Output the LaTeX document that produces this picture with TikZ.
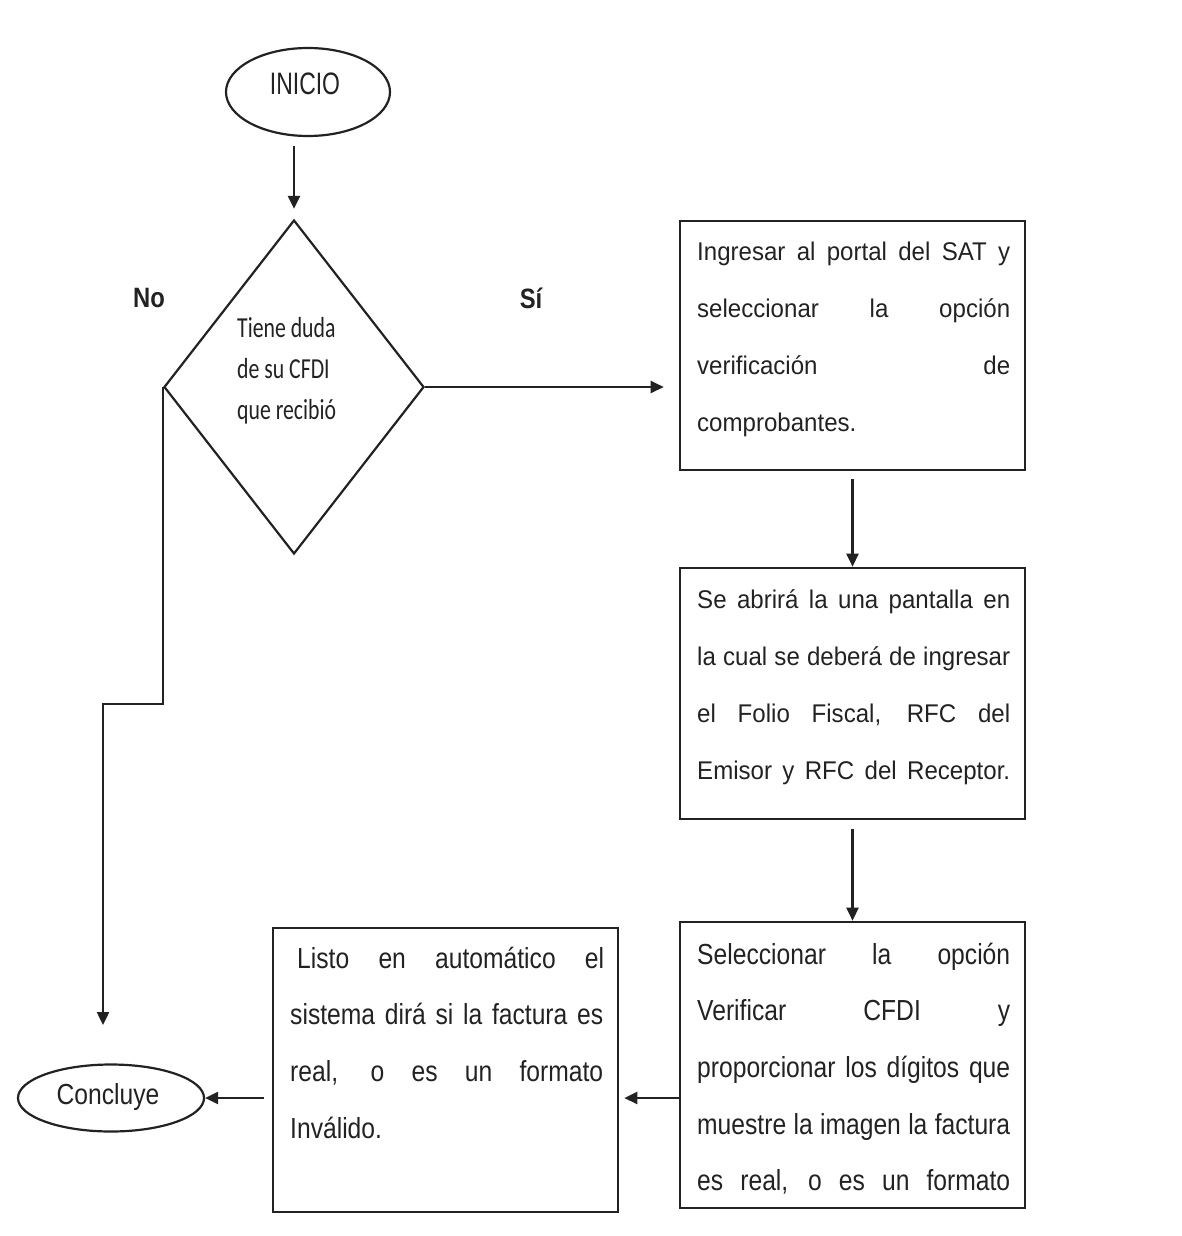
\documentclass[tikz,border=0pt]{standalone}
\usepackage{fontspec}
\setmainfont{Liberation Sans}
\newfontfamily\boxfont[FakeStretch=0.94]{Liberation Sans}
\newfontfamily\narrowfont[FakeStretch=0.85]{Liberation Sans}
\newfontfamily\inifont[FakeStretch=0.74]{Liberation Sans}
\newfontfamily\calfont[FakeStretch=0.75]{Carlito}
\usetikzlibrary{shapes.geometric,arrows.meta}
\definecolor{ink}{HTML}{222222}
\tikzset{
  line/.style={draw=ink, line width=2.4pt},
  arr/.style={line, -{Triangle[length=13pt,width=12pt]}},
  boxshape/.style={draw=ink, line width=2.6pt, rectangle, inner sep=0pt},
  oval/.style={draw=ink, line width=2.2pt, ellipse, inner sep=0pt},
  lbl/.style={inner sep=0pt, text=ink},
}
\newcommand{\jline}[1]{\makebox[313pt][s]{#1}}
\newcommand{\lline}[1]{\makebox[313pt][l]{#1}}
\begin{document}
\begin{tikzpicture}[x=1pt,y=-1pt]
\useasboundingbox (0,0) rectangle (1182,1236);
% shapes
\node[oval, minimum width=164pt, minimum height=88pt] (ini) at (308,92) {};
\node[lbl, font=\inifont\fontsize{31pt}{31pt}\selectfont] (initxt) at (305,84) {INICIO};
\node[draw=ink, line width=2.2pt, diamond, aspect=0.78, minimum width=260pt, minimum height=334pt, inner sep=0pt] (dia) at (294,387) {};
\node[lbl, anchor=base west] (diatxt) at (237,337) {\parbox[t]{120pt}{\calfont\fontsize{29pt}{41pt}\selectfont Tiene duda\\de su CFDI\\que recibió}};
\node[lbl, font=\narrowfont\bfseries\fontsize{28pt}{28pt}\selectfont] (no) at (149,298) {No};
\node[lbl, font=\narrowfont\bfseries\fontsize{28pt}{28pt}\selectfont] (si) at (531,298) {Sí};

\node[boxshape, minimum width=345pt, minimum height=249pt] (b1) at (852.5,345.5) {};
\node[lbl, anchor=base west] (t1) at (697,260) {\parbox[t]{313pt}{\boxfont\fontsize{25.6pt}{57pt}\selectfont
\jline{Ingresar al portal del SAT y}\\
\jline{seleccionar la opción}\\
\jline{verificación de}\\
\lline{comprobantes.}}};

\node[boxshape, minimum width=345pt, minimum height=251pt] (b2) at (852.5,693.5) {};
\node[lbl, anchor=base west] (t2) at (697,608) {\parbox[t]{313pt}{\boxfont\fontsize{25.6pt}{57pt}\selectfont
\jline{Se abrirá la una pantalla en}\\
\jline{la cual se deberá de ingresar}\\
\jline{el Folio Fiscal, RFC del}\\
\jline{Emisor y RFC del Receptor.}}};

\node[boxshape, minimum width=345pt, minimum height=286pt] (b3) at (852.5,1065) {};
\node[lbl, anchor=base west] (t3) at (697,964) {\parbox[t]{313pt}{\narrowfont\fontsize{29pt}{56.7pt}\selectfont
\jline{Seleccionar la opción}\\
\jline{Verificar CFDI y}\\
\jline{proporcionar los dígitos que}\\
\jline{muestre la imagen la factura}\\
\jline{es real, o es un formato}}};

\node[boxshape, minimum width=345pt, minimum height=284pt] (b4) at (445.5,1070) {};
\node[lbl, anchor=base west] (t4) at (290,968) {\parbox[t]{314pt}{\narrowfont\fontsize{29pt}{56.7pt}\selectfont
\hspace*{7pt}\makebox[307pt][s]{Listo en automático el}\\
\jline{sistema dirá si la factura es}\\
\jline{real, o es un formato}\\
\lline{Inválido.}}};

\node[oval, minimum width=186pt, minimum height=67pt] (conc) at (111,1098) {};
\node[lbl, font=\narrowfont\fontsize{29pt}{29pt}\selectfont] (conctxt) at (108,1097) {Concluye};

% connectors
\coordinate (noend) at (103,1025);
\draw[arr, shorten <=9pt, shorten >=10pt] (ini.south -| dia.north) -- (dia.north);
\draw[arr, shorten >=15pt] (dia.east) -- (dia.east -| b1.west);
\draw[arr, shorten <=8pt] (b1.south) -- (b2.north);
\draw[arr, shorten <=9pt] (b2.south) -- (b3.north);
\draw[arr, shorten >=5pt] (b3.west |- conc.center) -- (b4.east |- conc.center);
\draw[arr, shorten <=8pt] (b4.west |- conc.center) -- (conc.east);
\draw[arr] (dia.west) -- (dia.west |- 0,704) -- (noend |- 0,704) -- (noend);
\end{tikzpicture}
\end{document}
